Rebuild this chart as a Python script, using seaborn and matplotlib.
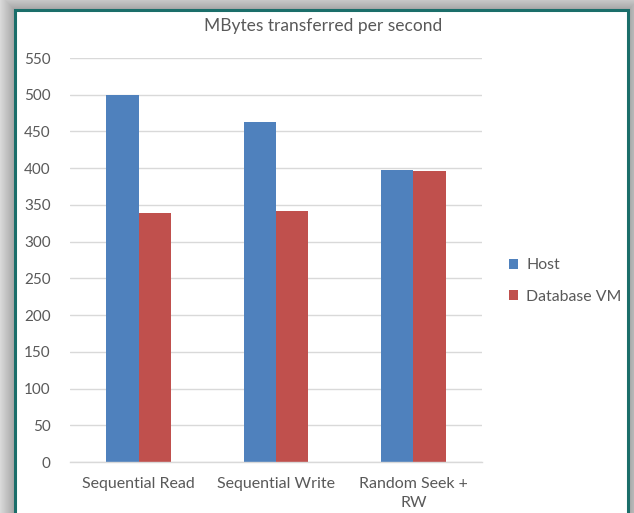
import numpy as np
import pandas as pd
import matplotlib
matplotlib.use("Agg")
import matplotlib.pyplot as plt
import seaborn as sns
from matplotlib.patches import Rectangle

categories = ["Sequential Read", "Sequential Write", "Random Seek +\nRW"]
host_values = [500, 463, 398]
vm_values = [339, 342, 396]
series_names = ["Host", "Database VM"]
y_ticks = list(range(0, 551, 50))

df = pd.DataFrame({
    "category": categories * 2,
    "series": [series_names[0]] * 3 + [series_names[1]] * 3,
    "value": host_values + vm_values,
})

sns.set_theme(style="white")
plt.rcParams["font.family"] = ["Lato", "DejaVu Sans"]
text_color = "#595959"

W, H = 634, 513
fig = plt.figure(figsize=(W / 100, H / 100), dpi=100)

# soft grey shadow surrounding the chart frame
bg = fig.add_axes([0, 0, 1, 1])
bg.set_xlim(0, W)
bg.set_ylim(H, 0)
bg.axis("off")
xx, yy = np.meshgrid(np.arange(W) + 0.5, np.arange(H) + 0.5)
fx0, fy0, fx1 = 15, 10, 628
dx = np.maximum(np.maximum(fx0 - xx, xx - fx1), 0)
dy = np.maximum(fy0 - yy, 0)
d = np.maximum(dx, dy)
shade = 0.64 + np.clip(d / 15, 0, 1) * 0.22
bg.imshow(np.dstack([shade] * 3), extent=(0, W, H, 0), aspect="auto", zorder=0)
bg.add_patch(Rectangle((fx0, fy0), fx1 - fx0, H + 20, facecolor="white",
                       edgecolor="#1b6e6a", linewidth=2.2, zorder=1))

ax = fig.add_axes([70 / W, 1 - 462 / H, 412 / W, (462 - 58) / H])
ax.set_facecolor("none")
sns.barplot(data=df, x="category", y="value", hue="series",
            palette=["#4F81BD", "#C0504D"], width=0.47, gap=0,
            saturation=1, linewidth=0, ax=ax, legend=True)

ax.set_ylim(0, 550)
ax.set_yticks(y_ticks)
ax.yaxis.grid(True, color="#d9d9d9", linewidth=1)
ax.set_axisbelow(True)
for s in ["left", "right", "top"]:
    ax.spines[s].set_visible(False)
ax.spines["bottom"].set_color("#d9d9d9")
ax.spines["bottom"].set_linewidth(1)
ax.tick_params(axis="both", length=0, colors=text_color)
ax.tick_params(axis="y", pad=14, labelsize=11)
ax.tick_params(axis="x", pad=11, labelsize=11.5)
ax.set_xlabel("")
ax.set_ylabel("")
for lbl in ax.get_xticklabels():
    lbl.set_linespacing(1.4)

leg = ax.legend(loc="center left", bbox_to_anchor=(1.03, 0.448), frameon=False,
                handlelength=0.6, handleheight=0.6, handletextpad=0.5,
                labelspacing=1.1, fontsize=11.4)
for t in leg.get_texts():
    t.set_color(text_color)

fig.text(323 / W, 1 - 26 / H, "MBytes transferred per second", ha="center",
         va="center", fontsize=12.5, color=text_color)

fig.savefig("out.png", dpi=100)
